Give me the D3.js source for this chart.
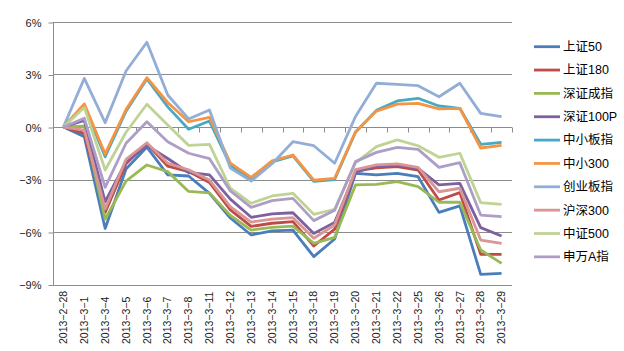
<!DOCTYPE html>
<html>
<head>
<meta charset="utf-8">
<script src="https://cdn.jsdelivr.net/npm/d3@7"></script>
<style>
  body { margin: 0; background: #fff; }
  text { font-family: "Liberation Sans", Arial, "Noto Sans CJK SC", sans-serif; }
</style>
</head>
<body>
<div id="chart"></div>
<script>
// categories
const dates = ["2013-2-28","2013-3-1","2013-3-4","2013-3-5","2013-3-6","2013-3-7","2013-3-8","2013-3-11","2013-3-12","2013-3-13","2013-3-14","2013-3-15","2013-3-18","2013-3-19","2013-3-20","2013-3-21","2013-3-22","2013-3-25","2013-3-26","2013-3-27","2013-3-28","2013-3-29"]
const yTicks = [-9, -6, -3, 0, 3, 6]

// series values (%)
const sz50   = [0,-0.55,-5.8,-2.4,-1.15,-2.74,-2.8,-3.79,-5.2,-6.17,-5.94,-5.89,-7.41,-6.4,-2.65,-2.74,-2.65,-2.84,-4.88,-4.51,-8.42,-8.36]
const sz180  = [0,-0.36,-4.88,-2.1,-0.95,-2.24,-2.55,-3.17,-4.74,-5.68,-5.5,-5.41,-6.8,-5.84,-2.5,-2.33,-2.27,-2.46,-4.17,-3.75,-7.28,-7.28]
const szcz   = [0,0.05,-5.27,-3.09,-2.17,-2.55,-3.68,-3.77,-5.05,-5.89,-5.73,-5.66,-6.65,-6.31,-3.31,-3.28,-3.12,-3.41,-4.3,-4.3,-7.03,-7.79]
const sz100p = [0,0.38,-4.27,-2.0,-1.05,-1.8,-2.6,-2.74,-4.12,-5.16,-4.97,-4.9,-6.08,-5.45,-2.6,-2.23,-2.17,-2.36,-3.31,-3.22,-5.75,-6.23]
const zxbz   = [0,1.2,-1.7,0.9,2.75,1.15,-0.13,0.34,-2.2,-3.0,-2.0,-1.65,-3.1,-3.0,-0.3,0.95,1.49,1.64,1.2,1.07,-0.99,-0.88]
const zx300  = [0,1.32,-1.54,1.0,2.82,1.4,0.3,0.55,-2.06,-2.88,-1.94,-1.6,-3.03,-2.93,-0.27,0.91,1.31,1.35,1.03,1.07,-1.2,-1.05]
const cybz   = [0,2.78,0.25,3.2,4.84,1.83,0.46,0.97,-2.35,-3.09,-2.1,-0.84,-1.07,-2.07,0.6,2.5,2.44,2.36,1.73,2.5,0.78,0.59]
const hs300  = [0,-0.18,-4.68,-1.85,-0.9,-2.07,-2.45,-3.03,-4.55,-5.43,-5.26,-5.18,-6.36,-5.6,-2.44,-2.17,-2.11,-2.31,-3.7,-3.5,-6.46,-6.65]
const zz500  = [0,1.12,-2.46,-0.3,1.3,0.11,-1.05,-0.99,-3.5,-4.36,-3.94,-3.79,-4.99,-4.7,-2.05,-1.12,-0.74,-1.07,-1.73,-1.5,-4.32,-4.42]
const swag   = [0,0.5,-3.45,-0.93,0.3,-0.84,-1.5,-1.81,-3.65,-4.59,-4.21,-4.08,-5.35,-4.76,-1.98,-1.45,-1.16,-1.28,-2.31,-2.04,-5.03,-5.12]

const names  = ["上证50","上证180","深证成指","深证100P","中小板指","中小300","创业板指","沪深300","中证500","申万A指"]
const colors = ["#4A7EBB","#BE4B48","#98B954","#7D60A0","#46AAC5","#F59442","#93AED6","#D99694","#BFD395","#AE9EC6"]
const values = [sz50, sz180, szcz, sz100p, zxbz, zx300, cybz, hs300, zz500, swag]

const width = 624
const height = 351
const margin = ({ top: 22, right: 112, bottom: 66.5, left: 53 })

const svg = d3.select('#chart')
    .append('svg')
    .attr('width', width)
    .attr('height', height)

const x = d3.scaleBand()
    .domain(dates)
    .range([margin.left, width - margin.right])
const y = d3.scaleLinear()
    .domain([-9, 6])
    .range([height - margin.bottom, margin.top])

const cx = d => x(d) + x.bandwidth() / 2

// horizontal gridlines
svg.append('g')
    .selectAll('line')
    .data(yTicks)
    .join('line')
    .attr('x1', margin.left)
    .attr('x2', width - margin.right)
    .attr('y1', d => Math.round(y(d)) + 0.5)
    .attr('y2', d => Math.round(y(d)) + 0.5)
    .attr('stroke', '#8c8c8c')
    .attr('stroke-width', 1)

// y axis
const yAxis = svg.append('g')
    .attr('transform', `translate(${margin.left + 0.5},0.5)`)
    .call(d3.axisLeft(y).tickValues(yTicks).tickSize(5).tickFormat(d => d + '%'))
yAxis.select('.domain').attr('stroke', '#8c8c8c').attr('d', `M0,${Math.round(y(6))}V${Math.round(y(-9))}`)
yAxis.selectAll('.tick line').attr('stroke', '#8c8c8c')
yAxis.selectAll('.tick text')
    .attr('x', -12)
    .attr('font-size', 11)
    .attr('fill', '#1a1a1a')
    .text(d => (d < 0 ? '\u2212' + Math.abs(d) : d) + '%')

// x axis on the 0 line, ticks between categories
const zeroY = Math.round(y(0)) + 0.5
svg.append('g')
    .selectAll('line')
    .data(dates.concat(['end']))
    .join('line')
    .attr('x1', (d, i) => Math.round(margin.left + i * x.step()) + 0.5)
    .attr('x2', (d, i) => Math.round(margin.left + i * x.step()) + 0.5)
    .attr('y1', zeroY)
    .attr('y2', zeroY + 5)
    .attr('stroke', '#8c8c8c')

// category labels, rotated
svg.append('g')
    .selectAll('text')
    .data(dates)
    .join('text')
    .attr('transform', d => `translate(${cx(d)},344) rotate(-90)`)
    .attr('dy', '0.35em')
    .attr('text-anchor', 'start')
    .attr('font-size', 10.5)
    .attr('fill', '#1a1a1a')
    .text(d => d.replace(/-/g, '\u2212'))

// lines
const line = d3.line()
    .x((d, i) => cx(dates[i]))
    .y(d => y(d))

svg.append('g')
    .selectAll('path')
    .data(values)
    .join('path')
    .attr('d', d => line(d))
    .attr('fill', 'none')
    .attr('stroke', (d, i) => colors[i])
    .attr('stroke-width', 2.8)
    .attr('stroke-linejoin', 'round')

// legend
const legend = svg.append('g')
    .selectAll('g')
    .data(names)
    .join('g')
    .attr('transform', (d, i) => `translate(534,${46.7 + i * 23.35})`)
legend.append('line')
    .attr('x1', 0)
    .attr('x2', 26)
    .attr('stroke', (d, i) => colors[i])
    .attr('stroke-width', 2.8)
legend.append('text')
    .attr('x', 29)
    .attr('dy', '0.35em')
    .attr('font-size', 12.5)
    .attr('fill', '#000')
    .style('font-family', '"Liberation Sans", "Noto Sans CJK SC", sans-serif')
    .text(d => d)
</script>
</body>
</html>
